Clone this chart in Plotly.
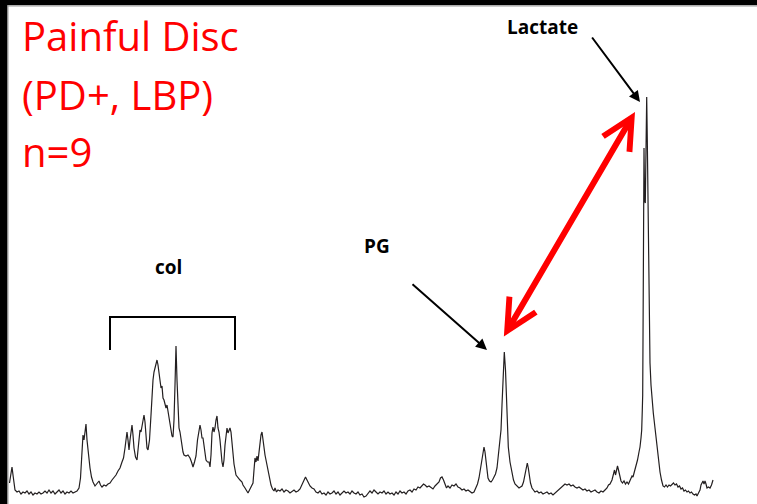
import plotly.graph_objects as go

# 1H spectrum trace, digitised as (shift position, signal) pairs per region
baseline_left = [
    (9.5, 21), (11, 32), (12, 37), (13, 29), (14, 18), (15, 14), (17, 12), (19, 13),
    (21, 10), (23, 12), (25, 11), (27, 13), (29, 10), (31, 12), (33, 9), (35, 11),
    (37, 10), (39, 12), (41, 10), (43, 11), (45, 13), (47, 11), (49, 14), (51, 11),
    (53, 13), (55, 10), (57, 12), (59, 14), (61, 11), (63, 13), (65, 10), (67, 12),
    (69, 11), (71, 13), (73, 11), (75, 12), (77, 13),
]

collagen_region = [
    (79, 16), (80.5, 26), (82, 52), (83, 69), (84, 64), (85, 76), (86, 80), (87, 64),
    (88, 54), (89, 49), (90, 36), (91.5, 27), (93, 22), (95, 18), (97, 20), (99, 23),
    (100.5, 19), (102, 17), (104, 19), (106, 18), (108, 20), (110, 21), (112, 24),
    (114, 26), (116, 29), (118, 33), (120, 36), (122, 42), (123.5, 46), (125, 56),
    (126, 66), (127, 72), (128, 64), (129, 54), (130, 64), (131, 74), (132, 79),
    (133, 69), (134, 56), (135.5, 47), (137, 44), (138, 54), (139, 69), (140, 74),
    (141, 72), (142, 79), (143, 86), (144, 89), (145, 82), (146, 66), (147, 56),
    (148, 54), (149.5, 64), (151, 89), (152, 109), (153, 124), (154, 132), (155, 136),
    (156, 142), (157, 144), (158, 139), (159, 129), (160, 121), (161, 116), (162, 118),
    (163, 106), (164, 104), (165, 99), (166, 96), (167, 99), (168, 92), (169, 84),
    (170, 77), (171, 74), (172, 68), (173, 67), (174, 84), (175, 119), (176, 158),
    (177, 124), (178, 86), (179, 76), (180, 72), (181, 64), (182, 57), (183, 52),
    (184, 49), (186, 48), (188, 49), (190, 46), (191.5, 42), (193, 37), (194.5, 42),
    (196, 48), (197.5, 64), (199, 76), (200, 79), (201, 74), (202, 66), (203, 66),
    (204.5, 54), (206, 44), (207.5, 42), (209, 42), (210, 37), (211, 49), (212, 71),
    (213, 77), (214, 72), (215, 76), (216, 84), (217, 88), (218, 76), (219, 72),
    (220, 64), (221, 49), (222, 42), (223, 37), (224, 44), (225, 59), (226, 72),
    (227, 76), (228, 71), (229, 74), (230, 76), (231, 72), (232, 59), (233, 46),
    (234, 40), (236, 29), (238, 26), (240, 24), (242, 22), (243, 19), (245, 16),
    (247, 12), (248, 11), (249.5, 14), (251, 17), (253, 21), (254, 34), (255, 46),
    (256, 42), (257, 48), (258, 43), (259, 54), (260, 64), (261, 69), (262, 72),
    (263, 64), (264, 52), (265, 49), (266, 44), (267, 39), (268, 34), (269.5, 26),
    (271, 19), (272.5, 15), (274, 13), (275, 16), (276.5, 12), (278, 14),
]

baseline_middle = [
    (280, 13), (282, 15), (284, 12), (286, 14), (288, 13), (290, 11), (292, 13),
    (294, 14), (296, 12), (298, 13), (300, 15), (302, 20), (304, 25), (305.5, 27),
    (307, 24), (308.5, 20), (310, 18), (312, 16), (314, 15), (316, 12), (318, 11),
    (320, 13), (322, 10), (324, 11), (326, 9), (328, 12), (330, 10), (332, 11),
    (334, 13), (336, 10), (338, 12), (340, 9), (342, 11), (344, 13), (346, 11),
    (348, 12), (350, 10), (352, 13), (354, 11), (356, 10), (358, 12), (360, 9),
    (362, 10), (364, 7), (366, 8), (368, 11), (370, 13), (372, 11), (374, 14),
    (376, 12), (378, 10), (380, 12), (382, 11), (384, 13), (386, 10), (388, 12),
    (390, 10), (392, 11), (394, 9), (396, 12), (398, 10), (400, 13), (402, 11),
    (404, 12), (406, 10), (408, 13), (410, 14), (412, 12), (414, 15), (416, 14),
    (418, 17), (420, 16), (422, 18), (423.5, 20), (425, 19), (427, 17), (429, 18),
    (431, 16), (433, 15), (435, 18), (437, 20), (439, 22), (440.5, 26), (442, 27),
    (443.5, 24), (445, 19), (446.5, 16), (448, 18), (450, 16), (452, 19), (454, 18),
    (456, 20), (458, 17), (460, 16), (462, 14), (464, 15), (466, 13), (468, 14),
    (470, 12), (472, 11), (474, 12),
]

pg_region = [
    (476, 16), (477.5, 20), (479, 26), (480.5, 36), (482, 48), (483, 54), (484, 57),
    (485, 52), (486, 42), (487, 32), (488, 26), (489.5, 23), (491, 22), (492.5, 24),
    (494, 27), (495.5, 30), (497, 36), (498.3, 51), (499, 56), (500, 64), (501, 74),
    (502, 99), (503, 129), (504.3, 152), (505.5, 134), (506.7, 101), (507.5, 76),
    (508.3, 57), (510, 42), (511.7, 31), (513.5, 24), (515, 20), (517, 18), (519, 16),
    (520.5, 17), (522, 18), (523.5, 22), (525, 30), (526.3, 39), (527.3, 41),
    (528.3, 36), (529.3, 27), (530.5, 21), (532, 16), (533.5, 14),
]

baseline_right = [
    (535, 12), (537, 13), (539, 11), (541, 12), (543, 10), (545, 11), (547, 12),
    (549, 10), (551, 11), (553, 9), (555, 11), (557, 12), (559, 14), (561, 17),
    (563, 19), (565, 20), (567, 19), (569, 20), (571, 18), (573, 19), (575, 17),
    (577, 16), (579, 17), (581, 15), (583, 14), (585, 15), (587, 13), (589, 14),
    (591, 12), (593, 13), (595, 14), (597, 12), (599, 11), (601, 13), (603, 12),
    (605, 14), (607, 16), (608.5, 19), (610, 20), (612, 24), (613.5, 30), (614.5, 34),
    (615.5, 29), (616.5, 34), (617.5, 38), (618.5, 34), (619.5, 28), (621, 23),
    (622.5, 21), (624, 23), (625.5, 20), (627, 22), (628.5, 20), (630, 23), (631, 26),
    (632, 28), (633, 27), (634.5, 32),
]

lactate_region = [
    (636, 38), (637.5, 44), (639, 52), (640, 57), (641, 66), (641.7, 74), (642.3, 94),
    (642.7, 109), (643, 164), (643.3, 224), (643.7, 284), (644, 356), (644.6, 304),
    (645.3, 301), (646, 354), (646.7, 407), (647.3, 364), (647.7, 324), (648.3, 274),
    (649, 224), (650, 141), (651, 119), (651.7, 107), (653.3, 91), (655, 76),
    (656.7, 59), (658.3, 44), (660, 32), (661.5, 24), (663, 18),
]

tail_region = [
    (664.5, 17), (666, 19), (667.5, 17), (669, 19), (670.5, 18), (672, 20), (673.5, 21),
    (675, 19), (676.5, 20), (678, 17), (679.5, 18), (681, 15), (682.5, 16), (684, 13),
    (685.5, 14), (687, 12), (688.5, 13), (690, 11), (691.5, 12), (693, 10), (694.5, 9),
    (696, 10), (697, 8), (698.5, 11), (700, 14), (701, 19), (702, 22), (703, 23),
    (704, 20), (705, 23), (706, 20), (707, 16), (708.5, 17), (710, 16), (711.5, 19),
    (713, 24),
]

regions = [baseline_left, collagen_region, baseline_middle, pg_region,
           baseline_right, lactate_region, tail_region]
shift = [p[0] for r in regions for p in r]
signal = [p[1] for r in regions for p in r]

title_lines = ["Painful Disc", "(PD+, LBP)", "n=9"]
W, H = 757, 504

fig = go.Figure()
fig.add_trace(go.Scatter(
    x=shift, y=signal, mode="lines",
    line=dict(color="#231f20", width=1.2, shape="linear"),
    hoverinfo="skip", showlegend=False,
))

# dark frame on the left and top edges
fig.add_shape(type="rect", xref="paper", yref="paper", x0=0, x1=7.5 / W, y0=0, y1=1,
              fillcolor="black", line_width=0, layer="above")
fig.add_shape(type="rect", xref="paper", yref="paper", x0=0, x1=1, y0=1 - 5.2 / H, y1=1,
              fillcolor="black", line_width=0, layer="above")
fig.add_shape(type="line", xref="paper", yref="paper", x0=8 / W, x1=8 / W, y0=0, y1=1 - 5 / H,
              line=dict(color="#9a9a9a", width=1))
fig.add_shape(type="line", xref="paper", yref="paper", x0=8 / W, x1=1, y0=1 - 6 / H, y1=1 - 6 / H,
              line=dict(color="#9a9a9a", width=1))

# collagen bracket
fig.add_shape(type="path", path="M 110,154 L 110,187 L 235,187 L 235,154",
              xref="x", yref="y", line=dict(color="black", width=2))

# red title block
for txt, yc in zip(title_lines, [469, 410, 353]):
    fig.add_annotation(x=20, y=yc, xref="x", yref="y", text=txt, showarrow=False,
                       xanchor="left", yanchor="middle",
                       font=dict(family="Open Sans", size=40, color="#ff0000"))

# peak labels
label_font = dict(family="Open Sans", size=19, color="black")
fig.add_annotation(x=542, y=477, text="<b>Lactate</b>", showarrow=False, font=label_font)
fig.add_annotation(x=377, y=258, text="<b>PG</b>", showarrow=False, font=label_font)
fig.add_annotation(x=168, y=237, text="<b>col</b>", showarrow=False, font=label_font)

# pointer arrows
fig.add_annotation(x=487, y=154, ax=411, ay=221, xref="x", yref="y", axref="x", ayref="y",
                   text="", showarrow=True, arrowhead=2, arrowsize=1.1, arrowwidth=2,
                   arrowcolor="black")
fig.add_annotation(x=640, y=402, ax=591, ay=468, xref="x", yref="y", axref="x", ayref="y",
                   text="", showarrow=True, arrowhead=2, arrowsize=1.1, arrowwidth=2,
                   arrowcolor="black")
# double-headed red arrow linking PG and lactate peaks
fig.add_annotation(x=635, y=392, ax=503, ay=166, xref="x", yref="y", axref="x", ayref="y",
                   text="", showarrow=True, arrowside="end+start",
                   arrowhead=5, startarrowhead=5, arrowsize=1.0, startarrowsize=1.0,
                   arrowwidth=6, arrowcolor="#ff0000")

fig.update_layout(
    width=W, height=H, autosize=False,
    margin=dict(l=0, r=0, t=0, b=0, pad=0),
    paper_bgcolor="white", plot_bgcolor="white",
    xaxis=dict(range=[0, W], visible=False, fixedrange=True),
    yaxis=dict(range=[0, H], visible=False, fixedrange=True),
)

fig.write_html("out.html")
